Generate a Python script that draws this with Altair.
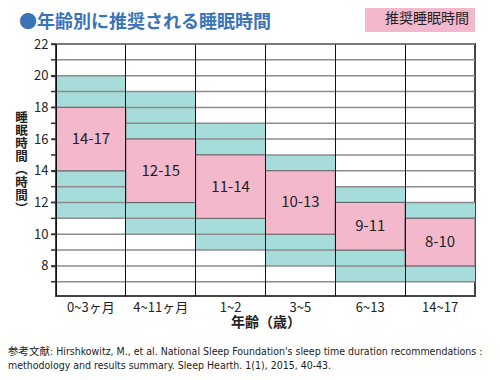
import altair as alt
import pandas as pd

categories = ["0~3ヶ月", "4~11ヶ月", "1~2", "3~5", "6~13", "14~17"]
rec_low = [14, 12, 11, 10, 9, 8]
rec_high = [17, 15, 14, 13, 11, 10]
ok_low = [11, 10, 9, 8, 7, 7]
ok_high = [19, 18, 16, 14, 12, 11]
hours = list(range(7, 23))
label_hours = [8, 10, 12, 14, 16, 18, 20, 22]
title_text = "●年齢別に推奨される睡眠時間"
footer_lines = [
    "参考文献: Hirshkowitz, M., et al. National Sleep Foundation's sleep time duration recommendations :",
    "methodology and results summary. Sleep Hearth. 1(1), 2015, 40-43.",
]

FONT = "Noto Sans CJK JP"
W, H = 419, 252

df = pd.DataFrame({
    "age": categories,
    "rec_low": rec_low,
    "rec_top": [h + 1 for h in rec_high],
    "ok_low": ok_low,
    "ok_top": [h + 1 for h in ok_high],
    "label": [f"{a}-{b}" for a, b in zip(rec_low, rec_high)],
    "kind": ["推奨睡眠時間"] * len(categories),
})
df["mid"] = (df["rec_low"] + df["rec_top"]) / 2
grid = pd.DataFrame({"h": hours})
footer = pd.DataFrame({"t": ["\n".join(footer_lines)]})
ttl = pd.DataFrame({"t": [title_text]})

ys = alt.Scale(domain=[6.1, 22], nice=False, zero=False)
xenc = alt.X(
    "age:N", sort=categories,
    scale=alt.Scale(paddingInner=0, paddingOuter=0),
    axis=alt.Axis(
        title="年齢（歳）", labelAngle=0, ticks=False, domain=False,
        grid=True, bandPosition=0, gridColor="#111", gridWidth=1,
        labelPadding=5, labelFontSize=13, labelColor="#222", labelFont=FONT,
        titleFontSize=14, titleFontWeight="bold", titleColor="#222", titleFont=FONT,
        titlePadding=1, zindex=1,
    ),
)
yaxis = alt.Axis(
    values=label_hours, labelOverlap=False,
    title=list("睡眠時間︵時間︶"), titleAngle=0, titleAlign="center",
    titleBaseline="top", titleX=-35, titleY=67, titleLineHeight=13,
    titleFontSize=12.5, titleFontWeight="bold", titleColor="#222", titleFont=FONT,
    labelFontSize=13, labelColor="#222", labelFont=FONT, labelPadding=3,
    tickSize=5, tickColor="#333", tickWidth=1.5, domain=False, grid=False, zindex=1,
)

base = alt.Chart(df)

teal = base.mark_rect(color="#a6dcd9").encode(
    x=xenc,
    y=alt.Y("ok_low:Q", scale=ys, axis=yaxis),
    y2="ok_top:Q",
)
rules = alt.Chart(grid).mark_rule(color="#8c8c8c", strokeWidth=1.5).encode(
    y=alt.Y("h:Q", scale=ys, axis=yaxis),
)
minor = alt.Chart(grid).mark_rule(color="#333", strokeWidth=1.5).encode(
    y=alt.Y("h:Q", scale=ys, axis=yaxis),
    x=alt.value(-5), x2=alt.value(0),
)
pink = base.mark_rect(stroke="#666", strokeWidth=1).encode(
    x=xenc,
    y=alt.Y("rec_low:Q", scale=ys, axis=yaxis),
    y2="rec_top:Q",
    color=alt.Color(
        "kind:N", scale=alt.Scale(range=["#f4b8cd"]),
        legend=alt.Legend(
            title=None, orient="none", legendX=309, legendY=-38,
            fillColor="#f4b8cd", padding=6, symbolSize=1, symbolOpacity=0,
            symbolStrokeWidth=0, labelOffset=0, labelFontSize=14, labelFont=FONT,
            labelColor="#222", labelFontWeight="normal",
        ),
    ),
)
labels = base.mark_text(fontSize=15, color="#222", font=FONT).encode(
    x=alt.X("age:N", sort=categories),
    y=alt.Y("mid:Q", scale=ys, axis=yaxis),
    text="label:N",
)
title = alt.Chart(ttl).mark_text(
    align="left", baseline="middle", fontSize=18, font=FONT, fontWeight="bold",
    color="#3b73b9",
).encode(x=alt.value(-37), y=alt.value(-21), text="t:N")
foot = alt.Chart(footer).mark_text(
    align="left", baseline="middle", fontSize=10.5,
    font="DejaVu Sans Condensed, Liberation Sans, Noto Sans CJK JP",
    color="#222", lineBreak="\n", lineHeight=13.5,
).encode(x=alt.value(-48), y=alt.value(H + 56), text="t:N")

chart = alt.layer(teal, rules, pink, labels, minor, title, foot).properties(
    width=W, height=H,
    autosize=alt.AutoSizeParams(type="none"),
    padding={"left": 48, "top": 36, "right": 17, "bottom": 76},
).configure_view(stroke="#444", strokeWidth=2)

chart.save("out.html", embed_options={"renderer": "svg", "actions": False})
